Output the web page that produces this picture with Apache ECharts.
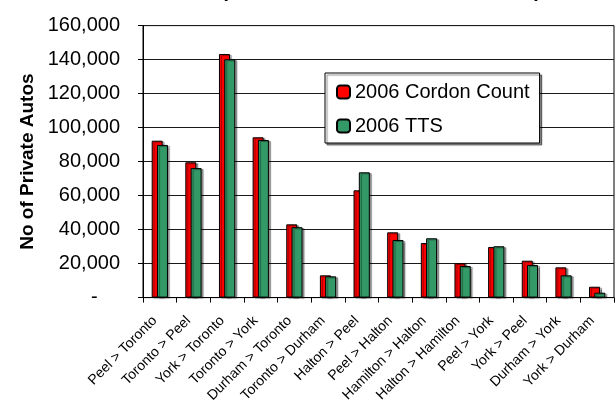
<!DOCTYPE html>
<html>
<head>
<meta charset="utf-8">
<script src="https://cdn.jsdelivr.net/npm/echarts@6/dist/echarts.min.js"></script>
<style>
  html, body { margin: 0; padding: 0; background: #fff; }
  #chart { width: 615px; height: 401px; }
</style>
</head>
<body>
<div id="chart"></div>
<script>
// 区间名称
var routes = ['Peel > Toronto', 'Toronto > Peel', 'York > Toronto', 'Toronto > York',
  'Durham > Toronto', 'Toronto > Durham', 'Halton > Peel', 'Peel > Halton',
  'Hamilton > Halton', 'Halton > Hamilton', 'Peel > York', 'York > Peel',
  'Durham > York', 'York > Durham'];
// 2006 Cordon Count
var cordonCount = [92300, 79600, 143300, 94300, 43100, 13100, 63100, 38400,
  32100, 20200, 29800, 21700, 17800, 6400];
// 2006 TTS
var ttsCount = [89800, 76200, 140200, 92700, 41400, 12500, 73700, 33900,
  34900, 18600, 30200, 19200, 13100, 2900];
var yTicks = [0, 20000, 40000, 60000, 80000, 100000, 120000, 140000, 160000];

var font = '"Liberation Sans", Arial, sans-serif';

function fmt(v) {
  if (v == 0) return '-    ';
  return String(v).replace(/\B(?=(\d{3})+(?!\d))/g, ',');
}

var myChart = echarts.init(document.getElementById('chart'));
var option = {
  animation: false,
  textStyle: { fontFamily: font },
  title: {
    text: '(6:00 - 9:00 AM Peak Period Total)',
    left: 381,
    textAlign: 'center',
    top: -19,
    padding: 0,
    textStyle: { fontSize: 20, fontWeight: 'bold', color: '#000', fontFamily: font }
  },
  legend: {
    orient: 'vertical',
    left: 325,
    top: 73,
    padding: [9, 10, 7, 11],
    itemWidth: 13,
    itemHeight: 13,
    itemGap: 14,
    backgroundColor: '#fff',
    borderColor: '#000',
    borderWidth: 1,
    shadowColor: 'rgba(0,0,0,0.45)',
    shadowOffsetX: 2,
    shadowOffsetY: 2,
    shadowBlur: 1,
    textStyle: { fontSize: 20, color: '#000', fontFamily: font },
    data: ['2006 Cordon Count', '2006 TTS']
  },
  grid: {
    left: 143,
    right: 1,
    top: 25.6,
    bottom: 103.4,
    outerBoundsMode: 'none',
    containLabel: false,
    show: true,
    borderColor: '#000',
    borderWidth: 1
  },
  xAxis: {
    type: 'category',
    data: routes,
    axisLine: { lineStyle: { color: '#000', width: 1 } },
    axisTick: { show: true, length: 5, lineStyle: { color: '#000' } },
    axisLabel: {
      interval: 0,
      rotate: 45,
      margin: 16,
      padding: [0, 7, 0, 0],
      fontSize: 14,
      color: '#000',
      fontFamily: font
    }
  },
  yAxis: {
    type: 'value',
    min: 0,
    max: 160000,
    interval: 20000,
    name: 'No of Private Autos',
    nameLocation: 'middle',
    nameRotate: 90,
    nameGap: 106,
    nameTextStyle: { fontSize: 19, fontWeight: 'bold', color: '#000', fontFamily: font },
    axisLine: { show: true, lineStyle: { color: '#000', width: 1 } },
    axisTick: { show: true, length: 5, lineStyle: { color: '#000' } },
    axisLabel: {
      margin: 23,
      fontSize: 20,
      color: '#000',
      fontFamily: font,
      formatter: fmt
    },
    splitLine: { show: true, lineStyle: { color: '#1a1a1a', width: 1 } }
  },
  series: [
    {
      name: '2006 Cordon Count',
      type: 'bar',
      data: cordonCount,
      barWidth: 11,
      barGap: '-52%',
      itemStyle: {
        color: '#ff0000',
        borderColor: '#000',
        borderWidth: 1,
        shadowColor: 'rgba(0,0,0,0.4)',
        shadowOffsetX: 2,
        shadowOffsetY: 1,
        shadowBlur: 1
      }
    },
    {
      name: '2006 TTS',
      type: 'bar',
      data: ttsCount,
      barWidth: 11,
      barGap: '-52%',
      itemStyle: {
        color: '#339966',
        borderColor: '#000',
        borderWidth: 1,
        shadowColor: 'rgba(0,0,0,0.4)',
        shadowOffsetX: 2,
        shadowOffsetY: 1,
        shadowBlur: 1
      }
    }
  ]
};
myChart.setOption(option);
</script>
</body>
</html>
